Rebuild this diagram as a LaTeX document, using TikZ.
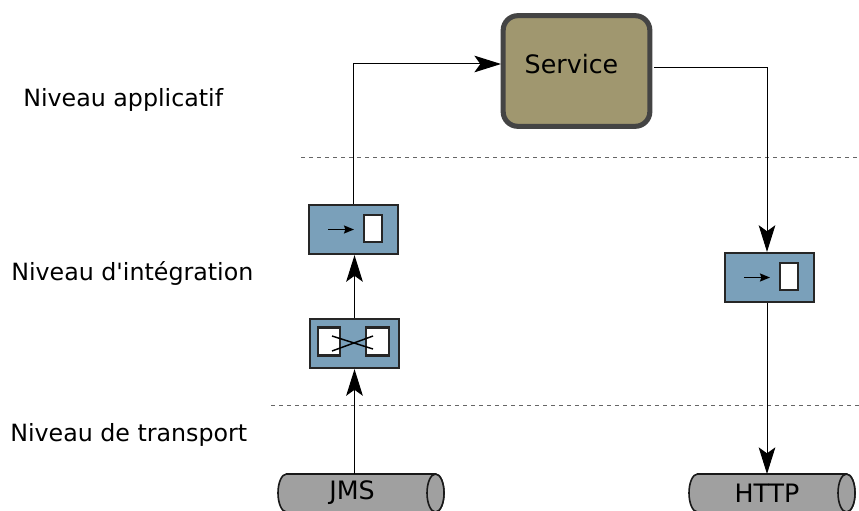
\documentclass[tikz,border=0pt]{standalone}
\usepackage{fontspec}
\setmainfont{DejaVu Sans}
\usetikzlibrary{arrows.meta}
\definecolor{filterBlue}{HTML}{7AA0BA}
\definecolor{serviceBrown}{HTML}{A0976F}
\definecolor{serviceEdge}{HTML}{444444}
\definecolor{tubeGrey}{HTML}{A0A0A0}

\begin{document}
\begin{tikzpicture}
[x=0.75pt,y=-0.75pt,
  levelDecorate/.style={anchor=west,inner sep=0pt,font=\fontsize{17.8}{20}\selectfont},%
  filterDecorate/.style={shape=rectangle,draw=black!85,line width=1.4pt,fill=filterBlue,
    minimum width=67pt,minimum height=37pt,inner sep=0pt},%
  slotDecorate/.style={shape=rectangle,draw=black!85,line width=1.6pt,fill=white,inner sep=0pt},%
  tubeDecorate/.style={draw=black!90,line width=1.2pt,fill=tubeGrey},%
  tubeText/.style={inner sep=0pt,font=\fontsize{19}{20}\selectfont},%
  lineDecorate/.style={-{Stealth[length=20pt,width=12.5pt,inset=4.5pt]},line width=0.75pt,black},%
  levelLine/.style={dashed,black!60,line width=0.6pt}]
\useasboundingbox (0,0) rectangle (859,510);
%% levels
\draw[levelLine] (301,157) -- (859,157);
\draw[levelLine] (271,405) -- (859,405);
\foreach \nodename/\x/\y/\txt in {
  applicatif/23/100/Niveau applicatif,
  integration/11/273/Niveau d\textquotesingle intégration,
  transport/10/435/Niveau de transport}
{
  \node (\nodename) at (\x,\y) [levelDecorate] {\txt};
}
%% service
\node (service) at (576.5,71) [shape=rectangle,rounded corners=11pt,draw=serviceEdge,line width=3.8pt,
  fill=serviceBrown,minimum width=110pt,minimum height=83pt] {};
\node (serviceText) at (571.5,64.5) [inner sep=0pt,font=\fontsize{19}{20}\selectfont] {Service};
\coordinate (serviceIn) at (501,64);
\coordinate (serviceOut) at (654,68);
%% filters
\foreach \nodename/\x/\y in {filtreA/353.5/229.5, filtreC/769.5/277.5}
{
  \node (\nodename) at (\x,\y) [filterDecorate] {};
  \node (\nodename Slot) at (\x+19.5,\y-1) [slotDecorate,minimum width=13pt,minimum height=20pt] {};
  \coordinate (\nodename Start) at (\x-25.5,\y);
  \coordinate (\nodename End) at (\x+0.5,\y);
  \draw[-{Stealth[length=7.5pt,width=6pt,inset=1pt]},line width=1.1pt] (\nodename Start) -- (\nodename End);
}
\node (filtreB) at (354.5,343.5) [filterDecorate] {};
\node (slotLeft) at (329,341.5) [slotDecorate,minimum width=17pt,minimum height=21pt] {};
\node (slotRight) at (377.5,341.5) [slotDecorate,minimum width=17pt,minimum height=21pt] {};
\draw[line width=1.1pt] (332,336) -- (373,349) (332,351) -- (373,336);
%% tubes
\foreach \nodename/\x/\tx/\txt in {jms/361/352/JMS, http/772/767/HTTP}
{
  \draw[tubeDecorate] (\x-74.5,474) -- (\x+74.5,474) arc (-90:90:8.5 and 19)
    -- (\x-74.5,512) arc (90:270:8.5 and 19) -- cycle;
  \draw[tubeDecorate] (\x+74.5,493) ellipse [x radius=8.5,y radius=19];
  \coordinate (\nodename Top) at (\x,474);
  \node (\nodename) at (\tx,493) [tubeText] {\txt};
}
%% edges or lines
\coordinate (corner) at (767,68);
\draw[lineDecorate] (filtreA.north) |- (serviceIn);
\draw[lineDecorate] (serviceOut) -- (corner) -- (corner |- filtreC.north);
\draw[lineDecorate] (corner |- filtreC.south) -- (corner |- httpTop);
\draw[lineDecorate] (filtreB.north) -- (filtreB.north |- filtreA.south);
\draw[lineDecorate] (filtreB.south |- jmsTop) -- (filtreB.south);
\end{tikzpicture}
\end{document}
